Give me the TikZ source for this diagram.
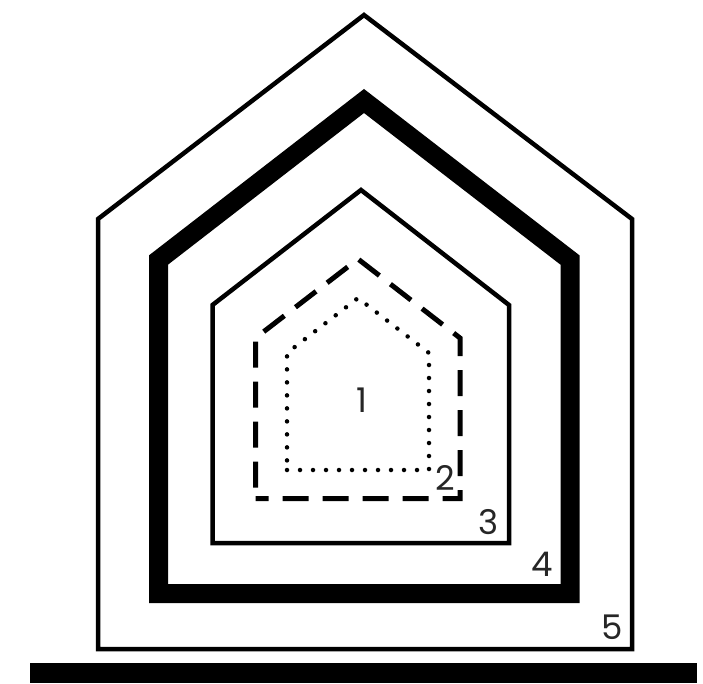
\documentclass[tikz,border=0pt]{standalone}
\usepackage{fontspec}
\setmainfont{Poppins}
\begin{document}
\begin{tikzpicture}[x=1pt,y=-1pt,line join=miter,
  thinhouse/.style={draw=black,line width=4.5pt},
  thickhouse/.style={draw=black,line width=19pt},
  dashhouse/.style={draw=black,line width=5pt,dash pattern=on 26pt off 14pt},
  dothouse/.style={draw=black,line width=4.5pt,line cap=round,dash pattern=on 0pt off 13pt},
  lbl/.style={font=\fontsize{34}{34}\selectfont,inner sep=0pt,text=black!85}]
\useasboundingbox (0,0) rectangle (703,683);
\fill[white] (0,0) rectangle (703,683);
% 5 outer
\draw[thinhouse] (364,15) -- (632,219) -- (632,649) -- (98,649) -- (98,219) -- cycle;
% 4 thick
\draw[thickhouse] (364,101) -- (570,260) -- (570,593.5) -- (158.5,593.5) -- (158.5,260) -- cycle;
% 3
\draw[thinhouse] (361,190) -- (509,305) -- (509,543) -- (212.5,543) -- (212.5,305) -- cycle;
% 2 dashed
\draw[dashhouse,dash phase=13pt] (255.5,498.5) -- (460,498.5) -- (460,338) -- (358,259) -- (255.5,338) -- cycle;
% 1 dotted
\draw[dothouse] (287,470) -- (429,470) -- (429,353) -- (358,298) -- (287,353) -- cycle;
% ground
\fill[black] (30,663) rectangle (697,683);
% labels
\node[lbl] (l1) at (362,400) {1};
\node[lbl] (l2) at (445,478) {2};
\node[lbl] (l3) at (489,522) {3};
\node[lbl] (l4) at (542,564) {4};
\node[lbl] (l5) at (612,627) {5};
\end{tikzpicture}
\end{document}
